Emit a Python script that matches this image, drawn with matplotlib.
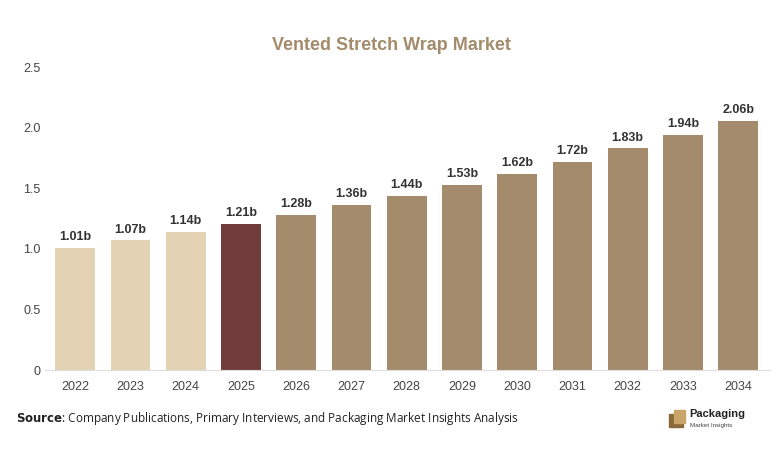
import matplotlib
matplotlib.use("Agg")
import matplotlib.pyplot as plt
from matplotlib.patches import Rectangle

years = ['2022', '2023', '2024', '2025', '2026', '2027', '2028', '2029', '2030',
         '2031', '2032', '2033', '2034']
values = [1.01, 1.07, 1.14, 1.21, 1.28, 1.36, 1.44, 1.53, 1.62, 1.72, 1.83, 1.94, 2.06]
labels = ['1.01b', '1.07b', '1.14b', '1.21b', '1.28b', '1.36b', '1.44b', '1.53b',
          '1.62b', '1.72b', '1.83b', '1.94b', '2.06b']

colors = ['#e3d2b4'] * 3 + ['#723c3c'] + ['#a38b6c'] * 9

plt.rcParams['font.family'] = ['Liberation Sans', 'DejaVu Sans']

fig = plt.figure(figsize=(7.82, 4.57), dpi=100)
ax = fig.add_axes([0.058, 0.19, 0.927, 0.663])

x = range(len(years))
ax.bar(x, values, width=0.72, color=colors, zorder=2)
for i, v in enumerate(values):
    ax.text(i, v + 0.04, labels[i], ha='center', va='bottom', fontsize=9,
            fontweight='bold', color='#333333')

ax.set_xticks(list(x))
ax.set_xticklabels(years)
ax.set_xlim(-0.54, 12.58)
ax.set_ylim(0, 2.5)
ax.set_yticks([0, 0.5, 1.0, 1.5, 2.0, 2.5])
ax.set_yticklabels(['0', '0.5', '1.0', '1.5', '2.0', '2.5'])
ax.tick_params(length=0, labelsize=9, colors='#444444')
ax.tick_params(axis='x', pad=8)
for s in ['top', 'right', 'left']:
    ax.spines[s].set_visible(False)
ax.spines['bottom'].set_color('#dddddd')

fig.text(0.5, 0.9, 'Vented Stretch Wrap Market', ha='center', va='center',
         fontsize=13, fontweight='bold', color='#a38b6c')

fig.text(0.02, 0.085, r'$\bf{Source}$: Company Publications, Primary Interviews, and Packaging Market Insights Analysis',
         ha='left', va='center', fontsize=8.5, color='#222222', family='Open Sans')

# logo
fig.patches.append(Rectangle((0.855, 0.065), 0.018, 0.03, transform=fig.transFigure,
                             color='#8a6a3a'))
fig.patches.append(Rectangle((0.862, 0.075), 0.014, 0.028, transform=fig.transFigure,
                             color='#c9a56a'))
fig.text(0.882, 0.095, 'Packaging', fontsize=8, fontweight='bold', color='#222222', va='center')
fig.text(0.882, 0.068, 'Market Insights', fontsize=4.5, color='#444444', va='center')

fig.savefig('out.png', dpi=100)
